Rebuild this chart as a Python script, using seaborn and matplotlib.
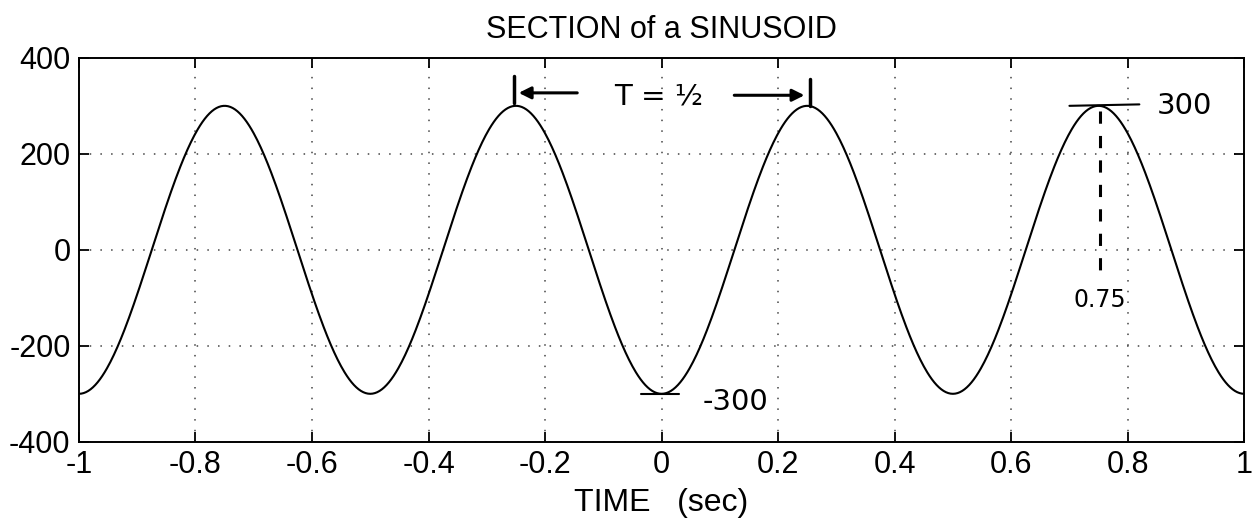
import numpy as np
import pandas as pd
import matplotlib
matplotlib.use("Agg")
import matplotlib.pyplot as plt
import seaborn as sns

# Values (annotated on the chart itself)
amplitude = 300.0          # peak value written as "300" / "-300"
period = 0.5               # "T = 1/2"
trough_time = 0.0          # minimum at t = 0
time_range = [-1.0, 1.0]
x_ticks = [-1, -0.8, -0.6, -0.4, -0.2, 0, 0.2, 0.4, 0.6, 0.8, 1]
x_tick_labels = ["-1", "-0.8", "-0.6", "-0.4", "-0.2", "0", "0.2", "0.4", "0.6", "0.8", "1"]
y_ticks = [-400, -200, 0, 200, 400]
y_tick_labels = ["-400", "-200", "0", "200", "400"]
title = "SECTION of a SINUSOID"
x_label = "TIME   (sec)"

t = np.linspace(time_range[0], time_range[1], 1001)
df = pd.DataFrame({"t": t,
                   "x": -amplitude * np.cos(2 * np.pi * (t - trough_time) / period)})

sns.set_style("ticks")
plt.rcParams["font.family"] = ["Liberation Sans", "DejaVu Sans"]
plt.rcParams["text.color"] = "black"
plt.rcParams["axes.labelcolor"] = "black"

fig = plt.figure(figsize=(12.53, 5.21), dpi=100)
ax = fig.add_axes([0.063, 0.152, 0.930, 0.737])

sns.lineplot(data=df, x="t", y="x", ax=ax, color="black", linewidth=1.5)

ax.set_xlim(*time_range)
ax.set_ylim(-400, 400)
ax.set_xticks(x_ticks)
ax.set_xticklabels(x_tick_labels)
ax.set_yticks(y_ticks)
ax.set_yticklabels(y_tick_labels)
ax.tick_params(direction="in", length=7, width=1.3, top=True, right=True,
               labelsize=22, pad=6, colors="black", labelcolor="black")
for s in ax.spines.values():
    s.set_linewidth(1.4)
    s.set_color("black")
ax.grid(True, linestyle=(0, (1, 6)), color="#444444", linewidth=1.1)

ax.set_title(title, fontsize=22, pad=14, color="black")
ax.set_xlabel(x_label, fontsize=23, labelpad=6, color="black")
ax.set_ylabel("")

# hand annotations
hand = dict(color="black", fontsize=21, family=["DejaVu Sans"])
T_left, T_right = -0.25, 0.25
yT = 327
ax.plot([T_left - 0.003, T_left - 0.003], [305, 362], color="black", lw=2.5)
ax.plot([T_right + 0.005, T_right + 0.005], [300, 355], color="black", lw=2.5)
ax.annotate("", xy=(T_left, yT), xytext=(-0.14, yT),
            arrowprops=dict(arrowstyle="-|>", color="black", lw=2.2, mutation_scale=18))
ax.annotate("", xy=(T_right, yT - 5), xytext=(0.12, yT - 5),
            arrowprops=dict(arrowstyle="-|>", color="black", lw=2.2, mutation_scale=18))
ax.text(-0.005, yT - 8, "T = ½", ha="center", va="center", **hand)

ax.plot([0.70, 0.82], [300, 303], color="black", lw=1.5)
ax.text(0.85, 300, "300", ha="left", va="center", **hand)
ax.plot([0.753, 0.753], [290, -55], color="black", lw=2.2, linestyle=(0, (4, 4)))
ax.text(0.752, -105, "0.75", ha="center", va="center", color="black", fontsize=17,
        family=["DejaVu Sans"])

ax.plot([-0.035, 0.03], [-300, -300], color="black", lw=1.5)
ax.text(0.07, -318, "-300", ha="left", va="center", **hand)

fig.savefig("out.png", dpi=100, facecolor="white")
